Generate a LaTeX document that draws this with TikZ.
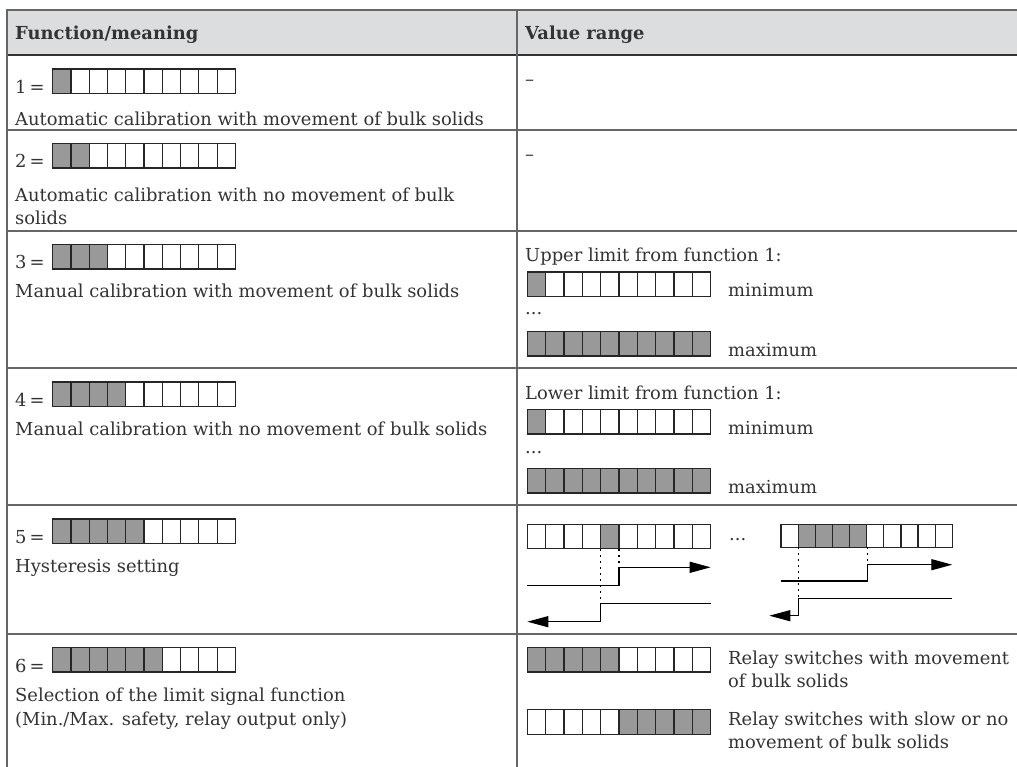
\documentclass[tikz,border=0pt]{standalone}
\usepackage{fontspec}
\setmainfont{DejaVu Serif}
\usetikzlibrary{arrows.meta}
\definecolor{hdr}{HTML}{DCDDDF}
\definecolor{rulec}{HTML}{666666}
\definecolor{cellg}{HTML}{999999}
\definecolor{txt}{HTML}{333333}
% #1 x, #2 y top, #3 cell width, #4 height, #5 first shaded, #6 last shaded
\newcommand{\segbar}[6]{%
  \fill[cellg] ({#1+(#5-1)*#3},{#2}) rectangle ({#1+#6*#3},{#2+#4});
  \foreach \i in {1,...,9}{\draw[barline] ({#1+\i*#3},{#2}) -- ++(0,{#4});}
  \draw[barline] ({#1},{#2}) rectangle ({#1+10*#3},{#2+#4});
}
\begin{document}
\begin{tikzpicture}[x=1pt,y=-1pt,
  lbl/.style={anchor=base west,inner sep=0pt,text=txt,font=\fontsize{17.9}{24}\selectfont},
  hd/.style={lbl,font=\fontsize{17.9}{24}\selectfont\bfseries},
  tbl/.style={draw=rulec,line width=2pt},
  barline/.style={draw=black!85,line width=1.2pt},
  sig/.style={line width=1.3pt,draw=black},
  dotl/.style={line width=1.3pt,draw=black,dash pattern=on 2pt off 4pt},
  tip/.style={-{Triangle[length=21pt,width=11pt]}}
]
\useasboundingbox (0,0) rectangle (1017,767);
% header
\fill[hdr] (7,10) rectangle (1017,55);
\draw[tbl] (7,10) -- (1017,10);
\draw[line width=2pt,draw=txt] (7,55) -- (1017,55);
\foreach \yy in {130,231,368,505,634}{\draw[tbl] (7,\yy) -- (1017,\yy);}
\draw[tbl] (7,9) -- (7,767);
\draw[tbl] (517,9) -- (517,767);
\node[hd] (h1) at (15,40) {Function/meaning};
\node[hd] (h2) at (525,40) {Value range};
% left column
\node[lbl] (n1) at (15,93.5) {1\,=};
\segbar{52.7}{69}{18.27}{24.5}{1}{1}
\node[lbl] (t1) at (15,126) {Automatic calibration with movement of bulk solids};
\node[lbl] (n2) at (15,168) {2\,=};
\segbar{52.7}{143.5}{18.27}{24.5}{1}{2}
\node[lbl] (t2a) at (15,201.7) {Automatic calibration with no movement of bulk};
\node[lbl] (t2b) at (15,225) {solids};
\node[lbl] (n3) at (15,269) {3\,=};
\segbar{52.7}{244.5}{18.27}{24.5}{1}{3}
\node[lbl] (t3) at (15,298) {Manual calibration with movement of bulk solids};
\node[lbl] (n4) at (15,406.5) {4\,=};
\segbar{52.7}{382}{18.27}{24.5}{1}{4}
\node[lbl] (t4) at (15,435) {Manual calibration with no movement of bulk solids};
\node[lbl] (n5) at (15,543.5) {5\,=};
\segbar{52.7}{519}{18.27}{24.5}{1}{5}
\node[lbl] (t5) at (15,572.7) {Hysteresis setting};
\node[lbl] (n6) at (15,672) {6\,=};
\segbar{52.7}{647.5}{18.27}{24.5}{1}{6}
\node[lbl] (t6a) at (15,701.7) {Selection of the limit signal function};
\node[lbl] (t6b) at (15,725) {(Min./Max. safety, relay output only)};
% right column
\node[lbl] (r1) at (525,85.7) {–};
\node[lbl] (r2) at (525,160.7) {–};
\node[lbl] (r3) at (525,261.7) {Upper limit from function 1:};
\segbar{527.3}{272}{18.33}{24.5}{1}{1}
\node[lbl] (r3min) at (728,296.5) {minimum};
\node[lbl] (r3d) at (525,315) {...};
\segbar{527.3}{331.5}{18.33}{24.5}{1}{10}
\node[lbl] (r3max) at (728,356) {maximum};
\node[lbl] (r4) at (525,399) {Lower limit from function 1:};
\segbar{527.3}{409.5}{18.33}{24.5}{1}{1}
\node[lbl] (r4min) at (728,434) {minimum};
\node[lbl] (r4d) at (525,453) {...};
\segbar{527.3}{468.5}{18.33}{24.5}{1}{10}
\node[lbl] (r4max) at (728,493) {maximum};
% hysteresis
\segbar{527.3}{524.3}{18.33}{24.5}{5}{5}
\node[lbl] (r5d) at (729,540.5) {...};
\segbar{781}{524.3}{17.13}{23}{2}{5}
\coordinate (a1) at (527.3,585.7);
\coordinate (a2) at (619,585.7);
\coordinate (a3) at (619,567.3);
\coordinate (a4) at (710.7,567.3);
\coordinate (b1) at (710.7,603.3);
\coordinate (b2) at (600.7,603.3);
\coordinate (b3) at (600.7,621.7);
\coordinate (b4) at (527.3,621.7);
\coordinate (d1) at (600.7,549);
\coordinate (d2) at (619,549);
\draw[sig,tip] (a1) -- (a2) -- (a3) -- (a4);
\draw[sig,tip] (b1) -- (b2) -- (b3) -- (b4);
\draw[dotl] (d1) -- (b2);
\draw[dotl] (d2) -- (a3);
\coordinate (c1) at (781,581);
\coordinate (c2) at (867.3,581);
\coordinate (c3) at (867.3,564.7);
\coordinate (c4) at (952.3,564.7);
\coordinate (e1) at (952.3,598.3);
\coordinate (e2) at (798.3,598.3);
\coordinate (e3) at (798.3,615.7);
\coordinate (e4) at (769.3,615.7);
\coordinate (f1) at (798.3,547.3);
\coordinate (f2) at (867.3,547.3);
\draw[sig,tip] (c1) -- (c2) -- (c3) -- (c4);
\draw[sig,tip] (e1) -- (e2) -- (e3) -- (e4);
\draw[dotl] (f1) -- (e2);
\draw[dotl] (f2) -- (c3);
% row 6 right
\segbar{527.3}{647.5}{18.33}{24.5}{1}{5}
\node[lbl] (r6a) at (728,664) {Relay switches with movement};
\node[lbl] (r6b) at (728,687.7) {of bulk solids};
\segbar{527.3}{709.5}{18.33}{25}{6}{10}
\node[lbl] (r6c) at (728,725) {Relay switches with slow or no};
\node[lbl] (r6d) at (728,748.3) {movement of bulk solids};
\end{tikzpicture}
\end{document}
